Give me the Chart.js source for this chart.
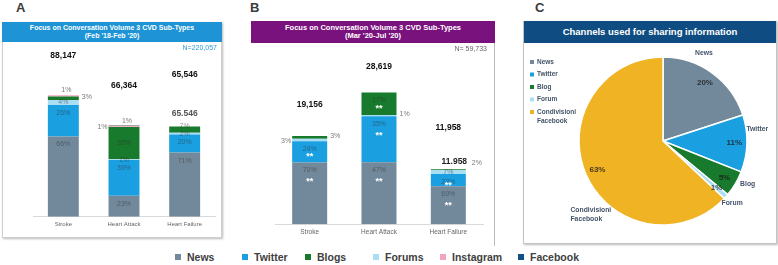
<!DOCTYPE html>
<html>
<head>
<meta charset="utf-8">
<script src="https://cdn.jsdelivr.net/npm/chart.js@4.4.1/dist/chart.umd.min.js"></script>
<style>
  body { margin:0; width:778px; height:265px; background:#fff; position:relative; overflow:hidden; font-family:'Liberation Sans', Arial, sans-serif; }
  .letter { position:absolute; top:0px; font-weight:bold; font-size:13px; color:#3a3a3a; }
  .head { position:absolute; color:#fff; font-weight:bold; text-align:center; display:flex; flex-direction:column; justify-content:center; line-height:1.1; }
  canvas { position:absolute; }
  .leg { position:absolute; top:251px; font-size:10.5px; font-weight:bold; color:#404040; white-space:nowrap; }
  .leg i { display:inline-block; width:6px; height:6px; margin-right:6px; vertical-align:1px; }
</style>
</head>
<body>
<div class="letter" style="left:16px">A</div>
<div class="letter" style="left:250px">B</div>
<div class="letter" style="left:535px">C</div>

<div style="position:absolute;left:2px;top:22px;width:220px;height:216px;box-sizing:border-box;border:1px solid #cfcfcf;box-shadow:1px 1px 2px #bbb"></div>
<div class="head" style="left:2px;top:22px;width:220px;height:20px;background:#1e94d6;font-size:7px">
  <div>Focus on Conversation Volume 3 CVD Sub-Types</div><div>(Feb '18-Feb '20)</div>
</div>

<div style="position:absolute;left:494px;top:21px;width:1px;height:225px;background:#bbb"></div>
<div class="head" style="left:251px;top:21px;width:244px;height:22px;background:#7a127e;font-size:7.5px">
  <div>Focus on Conversation Volume 3 CVD Sub-Types</div><div>(Mar '20-Jul '20)</div>
</div>

<div style="position:absolute;left:523px;top:21px;width:254px;height:223px;box-sizing:border-box;border:1px solid #c4c4c4;box-shadow:1px 1px 2px #bbb"></div>
<div class="head" style="left:524px;top:21px;width:252px;height:22px;background:#0f4c81;font-size:9.5px">
  <div>Channels used for sharing information</div>
</div>

<canvas id="chartA" width="217" height="194" style="left:3px;top:43px"></canvas>
<canvas id="chartB" width="241" height="200" style="left:253px;top:43px"></canvas>
<canvas id="chartC" width="252" height="200" style="left:524px;top:43px"></canvas>

<div id="legend"></div>

<script>
const categories = ['Stroke', 'Heart Attack', 'Heart Failure'];

// A: Feb '18 - Feb '20, totals and % share per channel
const totalsA = [88147, 66364, 65546];
const newsA = [66, 23, 71];
const twitterA = [26, 39, 20];
const forumsA = [4, 1, 2];
const blogsA = [3, 35, 7];
const instagramA = [1, 1, 0];
const facebookA = [0, 1, 0];

// B: Mar '20 - Jul '20
const totalsB = [19156, 28619, 11958];
const newsB = [70, 47, 69];
const twitterB = [24, 35, 22];
const forumsB = [3, 1, 7];
const blogsB = [3, 17, 2];
const sigNewsB = ['**', '**', '**'];
const sigTwitterB = ['**', '**', '**'];
const sigBlogsB = ['', '**', ''];

// C: channels pie
const pieLabels = ['News', 'Twitter', 'Blog', 'Forum', 'Condivisioni Facebook'];
const pieValues = [20, 11, 5, 1, 63];

const legendNames = ['News', 'Twitter', 'Blogs', 'Forums', 'Instagram', 'Facebook'];

const FONT = "'Liberation Sans', Arial, sans-serif";
const col = {
  news: '#72899b', twitter: '#1a9fe0', blogs: '#187a2c', forums: '#a9def5',
  instagram: '#f2a3bd', facebook: '#124f86', gold: '#f0b323'
};
const legendColors = [col.news, col.twitter, col.blogs, col.forums, col.instagram, col.facebook];
const legendLeft = [175, 242, 305, 373, 440, 518];

const share = (pct, totals) => pct.map((p, i) => p * totals[i] / 100);

const segLabels = {
  id: 'segLabels',
  afterDatasetsDraw(chart, args, o) {
    const ctx = chart.ctx;
    ctx.save();
    ctx.textBaseline = 'middle';
    chart.data.datasets.forEach((ds, di) => {
      chart.getDatasetMeta(di).data.forEach((bar, i) => {
        const where = o.place[di][i];
        const pct = ds.pct[i];
        if (!where || !pct) return;
        const top = bar.y, bot = bar.base;
        const left = bar.x - bar.width / 2, right = bar.x + bar.width / 2;
        let x = bar.x, y = top + 8, align = 'center', color = o.inColor;
        if (where === 'mid') y = (top + bot) / 2;
        else if (where === 'top') y = top;
        else if (where === 'above') { y = top - 5; color = o.outColor; x = bar.x + 3; }
        else if (where === 'right') { x = right + 3; y = (top + bot) / 2 - 1; align = 'left'; color = o.outColor; }
        else if (where === 'left') { x = left - 1; y = (top + bot) / 2 + 1; align = 'right'; color = o.outColor; }
        else if (where === 'rightTop') { x = right + 6; y = top - 6; align = 'left'; color = o.outColor; }
        ctx.font = '7px ' + FONT;
        ctx.fillStyle = color;
        ctx.textAlign = align;
        ctx.fillText(pct + '%', x, y);
        if (ds.sig && ds.sig[i]) {
          ctx.font = 'bold 9px ' + FONT;
          ctx.fillStyle = '#fff';
          ctx.textAlign = 'center';
          ctx.fillText(ds.sig[i], bar.x, Math.min(top + 19, (top + bot) / 2 + 5));
        }
      });
    });
    ctx.restore();
  }
};

const totalsPlugin = {
  id: 'totals',
  afterDatasetsDraw(chart, args, o) {
    const ctx = chart.ctx, ys = chart.scales.y, xs = chart.scales.x;
    ctx.save();
    ctx.textBaseline = 'middle';
    ctx.textAlign = 'center';
    o.totals.forEach((t, i) => {
      const top = ys.getPixelForValue(t);
      ctx.font = 'bold 8.5px ' + FONT;
      ctx.fillStyle = '#111';
      ctx.fillText(t.toLocaleString('en-US'), xs.getPixelForValue(i), top - o.lift[i]);
      if (o.echo[i]) {
        ctx.fillStyle = o.echoColor;
        ctx.fillText(t.toLocaleString('de-DE'), xs.getPixelForValue(i) + o.echoDx, top - o.echoLift);
      }
    });
    const n = o.totals.reduce((a, b) => a + b, 0);
    ctx.textAlign = 'right';
    ctx.font = '7px ' + FONT;
    ctx.fillStyle = o.nColor;
    ctx.fillText(o.nPrefix + n.toLocaleString('en-US'), chart.width - o.nRight, o.nY);
    ctx.restore();
  }
};

function barOptions(pad, max, tickSize, labelOpts, totalOpts) {
  return {
    responsive: false,
    animation: false,
    devicePixelRatio: 1,
    layout: { padding: pad },
    plugins: {
      legend: { display: false },
      tooltip: { enabled: false },
      segLabels: labelOpts,
      totals: totalOpts
    },
    scales: {
      x: {
        stacked: true,
        grid: { display: false, drawTicks: false },
        border: { color: '#d9d9d9' },
        ticks: { font: { size: tickSize, family: FONT }, color: '#666', padding: 4 }
      },
      y: { stacked: true, display: false, min: 0, max: max }
    }
  };
}

function ds(label, pct, totals, color, bp, sig) {
  return { label, pct, sig, data: share(pct, totals), backgroundColor: color,
    borderWidth: 0, barPercentage: bp, categoryPercentage: 1 };
}

new Chart(document.getElementById('chartA'), {
  type: 'bar',
  data: {
    labels: categories,
    datasets: [
      ds('News', newsA, totalsA, col.news, 0.51),
      ds('Twitter', twitterA, totalsA, col.twitter, 0.51),
      ds('Forums', forumsA, totalsA, col.forums, 0.51),
      ds('Blogs', blogsA, totalsA, col.blogs, 0.51),
      ds('Instagram', instagramA, totalsA, col.instagram, 0.51),
      ds('Facebook', facebookA, totalsA, '#8a8a8a', 0.51)
    ]
  },
  options: barOptions({ left: 30, right: 5, top: 10, bottom: 5 }, 118750, 6,
    {
      inColor: 'rgba(45,45,45,0.5)', outColor: '#7a7a7a',
      place: [
        ['in', 'in', 'in'],
        ['in', 'in', 'in'],
        ['mid', 'mid', 'mid'],
        ['right', 'mid', 'top'],
        ['above', 'above', null],
        [null, 'left', null]
      ]
    },
    { totals: totalsA, lift: [40, 40, 52], echo: [false, false, true], echoLift: 13, echoDx: 0,
      echoColor: '#555', nPrefix: 'N=', nColor: '#2a9bd8', nRight: 3, nY: 5 }),
  plugins: [segLabels, totalsPlugin]
});

new Chart(document.getElementById('chartB'), {
  type: 'bar',
  data: {
    labels: categories,
    datasets: [
      ds('News', newsB, totalsB, col.news, 0.505, sigNewsB),
      ds('Twitter', twitterB, totalsB, col.twitter, 0.505, sigTwitterB),
      ds('Forums', forumsB, totalsB, col.forums, 0.505),
      ds('Blogs', blogsB, totalsB, col.blogs, 0.505, sigBlogsB)
    ]
  },
  options: barOptions({ left: 22, right: 11, top: 10, bottom: 3 }, 37200, 6.5,
    {
      inColor: 'rgba(45,45,45,0.5)', outColor: '#7a7a7a',
      place: [
        ['in', 'in', 'in'],
        ['in', 'in', 'in'],
        ['left', 'right', 'mid'],
        ['right', 'in', 'rightTop']
      ]
    },
    { totals: totalsB, lift: [31, 26, 42], echo: [false, false, true], echoLift: 8, echoDx: 6,
      echoColor: '#222', nPrefix: 'N= ', nColor: '#666', nRight: 7, nY: 6 }),
  plugins: [segLabels, totalsPlugin]
});

// pie name positions: [angle from 12 o'clock in degrees, distance from centre]
const pieNameAt = [[25, 97], [83, 95], [117, 95], [132, 93], [225, 104]];

const pieText = {
  id: 'pieText',
  afterDatasetsDraw(chart) {
    const ctx = chart.ctx;
    const arcs = chart.getDatasetMeta(0).data;
    const colors = chart.data.datasets[0].backgroundColor;
    ctx.save();
    ctx.textBaseline = 'middle';
    arcs.forEach((arc, i) => {
      const mid = (arc.startAngle + arc.endAngle) / 2;
      const r = arc.outerRadius * 0.85;
      ctx.textAlign = 'center';
      ctx.font = 'bold 8px ' + FONT;
      ctx.fillStyle = 'rgba(25,25,25,0.8)';
      ctx.fillText(pieValues[i] + '%', arc.x + Math.cos(mid) * r, arc.y + Math.sin(mid) * r);
      const a = (pieNameAt[i][0] - 90) * Math.PI / 180;
      const nx = arc.x + Math.cos(a) * pieNameAt[i][1];
      const ny = arc.y + Math.sin(a) * pieNameAt[i][1];
      const lines = pieLabels[i].split(' ');
      ctx.font = 'bold 6.8px ' + FONT;
      ctx.fillStyle = '#44546a';
      ctx.textAlign = lines.length > 1 ? 'left' : 'center';
      lines.forEach((ln, k) => ctx.fillText(ln, lines.length > 1 ? nx - 19 : nx, ny + (k - (lines.length - 1) / 2) * 9));
    });
    // legend on the left
    let y = 19;
    pieLabels.forEach((name, i) => {
      const lines = name.split(' ');
      ctx.fillStyle = colors[i];
      ctx.fillRect(6, y - 2, 4, 4);
      ctx.fillStyle = '#44546a';
      ctx.font = 'bold 6.5px ' + FONT;
      ctx.textAlign = 'left';
      lines.forEach((ln, k) => ctx.fillText(ln, 13, y + k * 9));
      y += 12.5;
    });
    ctx.restore();
  }
};

new Chart(document.getElementById('chartC'), {
  type: 'pie',
  data: {
    labels: pieLabels,
    datasets: [{
      data: pieValues,
      backgroundColor: [col.news, col.twitter, col.blogs, col.forums, col.gold],
      borderColor: '#fff',
      borderWidth: 1.5,
      radius: 84
    }]
  },
  options: {
    responsive: false,
    animation: false,
    devicePixelRatio: 1,
    layout: { padding: { left: 30, right: 4, top: 0, bottom: 4 } },
    plugins: { legend: { display: false }, tooltip: { enabled: false } }
  },
  plugins: [pieText]
});

const legend = document.getElementById('legend');
legendNames.forEach((name, i) => {
  const el = document.createElement('div');
  el.className = 'leg';
  el.style.left = legendLeft[i] + 'px';
  el.innerHTML = '<i style="background:' + legendColors[i] + '"></i>' + name;
  legend.appendChild(el);
});
</script>
</body>
</html>
